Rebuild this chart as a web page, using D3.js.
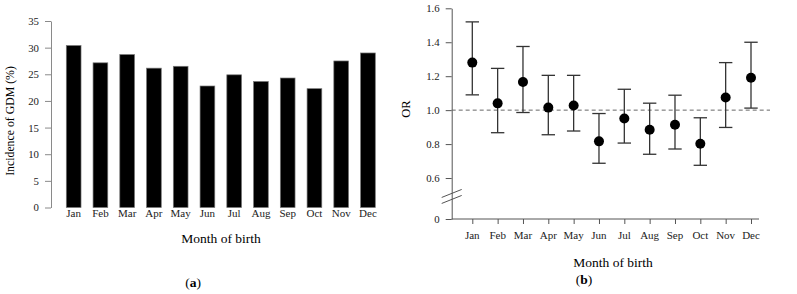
<!DOCTYPE html>
<html>
<head>
<meta charset="utf-8">
<script src="https://cdn.jsdelivr.net/npm/d3@7"></script>
<style>
  body { margin: 0; background: #fff; }
  svg { display: block; font-family: "Liberation Serif", "Times New Roman", serif; }
  .tick text { fill: #222; font-size: 10.8px; font-family: "Liberation Serif", "Times New Roman", serif; }
  .axa .domain, .axa .tick line { stroke: #8a8a8a; }
  .axb .domain, .axb .tick line { stroke: #555; }
</style>
</head>
<body>
<svg id="chart" width="797" height="294"></svg>
<script>
// month of birth vs GDM
var months = ["Jan","Feb","Mar","Apr","May","Jun","Jul","Aug","Sep","Oct","Nov","Dec"];
var gdmIncidence = [30.4, 27.15, 28.7, 26.15, 26.5, 22.8, 24.9, 23.65, 24.3, 22.3, 27.5, 29.0];
var gdmTicks = [0, 5, 10, 15, 20, 25, 30, 35];

var orPoint = [1.28, 1.04, 1.166, 1.015, 1.027, 0.816, 0.951, 0.884, 0.914, 0.802, 1.074, 1.191];
var orLower = [1.09, 0.867, 0.986, 0.855, 0.877, 0.687, 0.806, 0.74, 0.771, 0.675, 0.898, 1.012];
var orUpper = [1.52, 1.246, 1.375, 1.205, 1.205, 0.98, 1.123, 1.041, 1.088, 0.955, 1.28, 1.40];
var orTicks = [0, 0.6, 0.8, 1.0, 1.2, 1.4, 1.6];

var svg = d3.select('#chart');

// ---- panel (a): bars
function drawBars(){
    var axisX = 51;
    var x = d3.scaleBand().domain(months).range([66.3, 375.3])
        .paddingInner(0.45).paddingOuter(0);
    var y = d3.scaleLinear().domain([0, 35]).range([207.5, 21]);

    var g = svg.append('g');

    g.append('g').attr('class','axa')
    .attr('transform','translate('+axisX+',0)')
    .call(d3.axisLeft(y).tickValues(gdmTicks).tickSize(6).tickPadding(6).tickSizeOuter(0))
    .attr('font-family',null);

    g.selectAll('rect.bar')
    .data(gdmIncidence)
    .enter().append('rect')
    .attr('class','bar')
    .attr('x',(d,i)=>x(months[i]))
    .attr('width',x.bandwidth())
    .attr('y',d=>y(d))
    .attr('height',d=>y(0)-y(d))
    .style('fill','#000')
    .style('stroke','#777')
    .style('stroke-width',0.7);

    g.selectAll('text.mlab')
    .data(months)
    .enter().append('text')
    .attr('class','mlab')
    .attr('x',d=>x(d)+x.bandwidth()/2)
    .attr('y',216.5)
    .attr('text-anchor','middle')
    .style('font-size','11px')
    .style('fill','#222')
    .text(d=>d);

    g.append('text')
    .attr('transform','translate(14,121) rotate(-90)')
    .attr('text-anchor','middle')
    .style('font-size','11.8px')
    .text('Incidence of GDM (%)');

    g.append('text')
    .attr('x',221).attr('y',243)
    .attr('text-anchor','middle')
    .style('font-size','13.5px')
    .text('Month of birth');

    var lab = g.append('text')
    .attr('x',193).attr('y',287)
    .attr('text-anchor','middle')
    .style('font-size','13.5px');
    lab.append('tspan').text('(');
    lab.append('tspan').style('font-weight','bold').text('a');
    lab.append('tspan').text(')');
}

// ---- panel (b): odds ratios with CI
function drawOR(){
    var axisX = 451.7, axisEnd = 759, baseY = 219;
    var x = d3.scalePoint().domain(months).range([472.3, 751]);
    // broken axis: 0..0.5 squeezed, 0.5..1.6 linear
    var y = d3.scaleLinear().domain([0, 0.5, 1.6]).range([baseY, 195, 8.3]);

    var g = svg.append('g');

    g.append('g').attr('class','axb')
    .attr('transform','translate('+axisX+',0)')
    .call(d3.axisLeft(y).tickValues(orTicks).tickSize(6).tickPadding(6).tickSizeOuter(0)
        .tickFormat(d=>d===0?'0':d3.format('.1f')(d)))
    .attr('font-family',null);

    var xAxis = g.append('g').attr('class','axb')
    .attr('transform','translate(0,'+baseY+')')
    .call(d3.axisBottom(x).tickSize(5).tickPadding(0).tickSizeOuter(0).tickFormat(''));
    xAxis.select('.domain').remove();
    g.append('line')
    .attr('x1',axisX).attr('x2',axisEnd)
    .attr('y1',baseY).attr('y2',baseY)
    .style('stroke','#555');

    g.selectAll('text.mlab')
    .data(months)
    .enter().append('text')
    .attr('class','mlab')
    .attr('x',d=>x(d))
    .attr('y',239)
    .attr('text-anchor','middle')
    .style('font-size','11px')
    .style('fill','#222')
    .text(d=>d);

    // axis break marks
    var yb = y(0.47);
    [-3, 3].forEach(function(off){
        g.append('line')
        .attr('x1',axisX-10).attr('y1',yb+off+4)
        .attr('x2',axisX+10).attr('y2',yb+off-4)
        .style('stroke','#555');
    });

    // reference line at OR = 1
    g.append('line')
    .attr('x1',axisX).attr('x2',770)
    .attr('y1',y(1)).attr('y2',y(1))
    .style('stroke','#666')
    .style('stroke-dasharray','4,3');

    var capW = 6.7;
    var err = g.selectAll('g.err')
    .data(months)
    .enter().append('g')
    .attr('class','err')
    .style('stroke','#333')
    .style('stroke-width',1.3);

    err.append('line')
    .attr('x1',d=>x(d)).attr('x2',d=>x(d))
    .attr('y1',(d,i)=>y(orLower[i])).attr('y2',(d,i)=>y(orUpper[i]));
    err.append('line')
    .attr('x1',d=>x(d)-capW).attr('x2',d=>x(d)+capW)
    .attr('y1',(d,i)=>y(orUpper[i])).attr('y2',(d,i)=>y(orUpper[i]));
    err.append('line')
    .attr('x1',d=>x(d)-capW).attr('x2',d=>x(d)+capW)
    .attr('y1',(d,i)=>y(orLower[i])).attr('y2',(d,i)=>y(orLower[i]));

    g.selectAll('circle.pt')
    .data(orPoint)
    .enter().append('circle')
    .attr('class','pt')
    .attr('cx',(d,i)=>x(months[i]))
    .attr('cy',d=>y(d))
    .attr('r',5)
    .style('fill','#000');

    g.append('text')
    .attr('transform','translate(410,109) rotate(-90)')
    .attr('text-anchor','middle')
    .style('font-size','12.5px')
    .text('OR');

    g.append('text')
    .attr('x',613).attr('y',267)
    .attr('text-anchor','middle')
    .style('font-size','13.5px')
    .text('Month of birth');

    var lab = g.append('text')
    .attr('x',584).attr('y',284)
    .attr('text-anchor','middle')
    .style('font-size','13.5px');
    lab.append('tspan').text('(');
    lab.append('tspan').style('font-weight','bold').text('b');
    lab.append('tspan').text(')');
}

drawBars();
drawOR();
</script>
</body>
</html>
